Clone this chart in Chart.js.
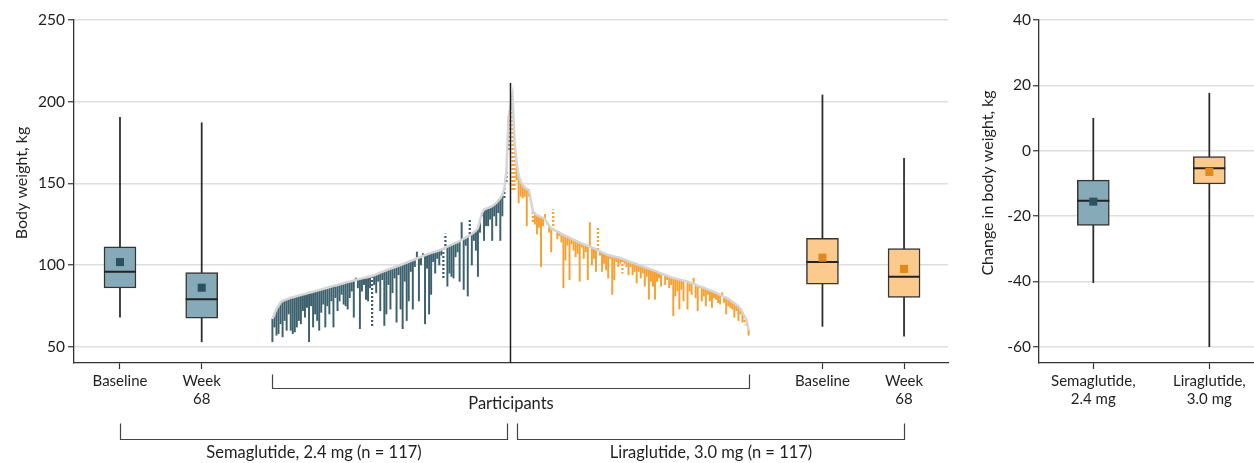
<!DOCTYPE html>
<html>
<head>
<meta charset="utf-8">
<script src="https://cdn.jsdelivr.net/npm/chart.js@4.4.1/dist/chart.umd.min.js"></script>
<style>
html,body{margin:0;padding:0;background:#fff;}
#wrap{position:relative;width:1254px;height:463px;overflow:hidden;background:#fff;}
#leftBox{position:absolute;left:0;top:0;width:960px;height:463px;}
#rightBox{position:absolute;left:960px;top:0;width:294px;height:463px;}
</style>
</head>
<body>
<div id="wrap">
  <div id="leftBox"><canvas id="left" width="960" height="463"></canvas></div>
  <div id="rightBox"><canvas id="right" width="294" height="463"></canvas></div>
</div>
<script>
// ---------------- DATA ----------------
const leftTickLabels = ['Baseline', ['Week', '68'], 'Baseline', ['Week', '68']];
const rightTickLabels = [['Semaglutide,', '2.4 mg'], ['Liraglutide,', '3.0 mg']];
const groupLabels = ['Semaglutide, 2.4 mg (n = 117)', 'Liraglutide, 3.0 mg (n = 117)'];
const participantsLabel = 'Participants';
const leftAxisTitle = 'Body weight, kg';
const rightAxisTitle = 'Change in body weight, kg';

// box stats: [min, q1, median, q3, max, mean]
const semaBaselineBox = [68, 85.9, 95.9, 111.2, 190.4, 101.8];
const semaWeek68Box   = [53, 67.4, 79.0, 95.3, 187.1, 86.1];
const liraBaselineBox = [62.4, 88.2, 101.8, 116.3, 204.1, 104.5];
const liraWeek68Box   = [56.5, 80.2, 92.8, 110.0, 165.3, 97.6];
const semaChangeBox   = [-40.4, -22.9, -15.3, -9.0, 9.9, -15.6];
const liraChangeBox   = [-60.0, -10.2, -5.4, -1.8, 17.6, -6.5];

// individual participants (semaglutide sorted ascending by baseline)
const semaBaseline = [67,70,73,75,77,78,78.5,79,79.5,80,
  80.3,80.6,81,81.3,81.6,82,82.3,82.6,83,83.3,
  83.6,84,84.3,84.7,85,85.4,85.8,86.1,86.5,86.8,
  87.2,87.5,87.8,88.2,88.5,88.8,89.2,89.5,89.8,90.2,
  90.6,91,91.2,91.5,91.8,92.1,92.4,92.7,93,93.3,
  93.7,94.2,94.8,95.3,95.8,96.3,96.8,97.3,97.8,98.2,
  98.6,99.1,99.5,100,100.5,101,101.5,102,102.5,103,
  103.5,104,104.5,105,105.5,106,106.5,107,107.4,107.8,
  108.2,108.6,109,109.5,110,110.6,111.2,111.8,112.4,113,
  113.5,114,114.7,115.4,116,116.8,117.5,118.3,119,120,
  121,122.5,127,132,134,134.5,135,135.5,136,137,
  138,139.5,141,143,147,158,190];
const semaWeek68 = [53,62,57,58,64,56,66,60,70,60,
  58,59,62,66,64,72,68,74,53,75,
  62,70,66,60,71,76,62,75,70,78,
  62,80,72,78,82,76,75,73,80,84,
  68,92,86,61,84,88,79,78,86,62,
  88,83,90,72,91,63,70,88,73,83,
  92,65,94,73,61,90,66,78,96,73,
  99,108,78,100,107,64,98,70,82,102,
  95,104,100,106,92,119,87,95,93,92,
  105,108,90,126,85,112,81,128,100,115,
  109,93,120,130,115,124,124,128,115,130,
  124,132,115,130,140,150,170];
const semaDotted = [49, 84, 85, 97, 114, 115, 116];

// liraglutide sorted descending by baseline
const liraBaseline = [204,175,163,155,151,149,147.5,146.5,146,140,
  133,131.5,130.5,130,129.3,128.9,128,126,124,122.5,
  121.7,121,120.5,120,119,118.5,118,117.4,116.8,116.2,
  115.6,115,114.3,113.7,113.2,112.7,112.2,111.7,111.2,110.7,
  110.3,109.7,109,108.4,107.8,107.2,106.6,106.1,105.8,105.5,
  105.2,104.9,104.6,104.3,103.8,103.3,102.8,102.3,101.8,101.4,
  101,100.6,100.1,99.7,99.2,98.7,98.3,97.8,97.3,96.9,
  96.4,95.9,95.3,94.8,94.3,93.9,93.4,92.9,92.4,92.1,
  91.8,91.4,91.1,90.8,90.5,90.2,89.9,89.4,88.9,88.5,
  88,87.4,86.9,86.5,86.1,85.5,85,84.6,84.1,83.5,
  82.9,82.3,81.7,81.1,80.5,80,79.3,78.4,77.5,76.6,
  75.7,74.7,73.3,71,68.5,66.5,60];
const liraWeek68 = [146,145,152,138,142,141,142,124,142,139,
  126,125,119,123,99,124,131,125,120,108,
  134,121,116,118,114,86,103,112,91,113,
  109,105,107,90,111,104,108,91,126,100,
  104,96,123,106,96,101,97,92,104,82,
  91,102,99,101,95,101,99,94,99,94,
  96,89,96,92,95,87,93,79,90,87,
  79,90,92,87,94,88,91,86,88,69,
  81,84,73,85,78,92,73,84,82,92,
  80,72,86,78,81,75,82,78,74,80,
  79,77,76,83,77,70,75,74,73,68,
  72,66,70,65,64,63,57];
const liraDotted = [0, 1, 10, 20, 42, 54, 85, 114, 115];

// ---------------- LAYOUT (x positions in participant-slot units) ----------------
const POS = {
  semaBase: 22.6, semaWeek: 62.75, semaStart: 97.5, sep: 214.5,
  liraStart: 215.5, liraBase: 367.8, liraWeek: 407.9,
  semaBracketEnd: 213.0, liraBracketStart: 217.8
};
const X_MAX = 429.5;
const LEFT_Y = {min: 40, max: 250, step: 50};
const RIGHT_Y = {min: -65, max: 40, step: 20};
const SEP_TOP = 211.5;
const RIGHT_X = {min: 0.532, max: 2.385, sema: 1, lira: 2};

const C = {
  semaBar: '#3d606d', semaBox: '#86aab8', semaMean: '#2b5261',
  liraBar: '#f7a032', liraBox: '#fdca8d', liraMean: '#e3881b',
  curve: '#d5d5d5', ink: '#2a2a2a', grid: '#dedede', text: '#1f1f1f'
};
const FONT = 'Lato, "Open Sans", sans-serif';

Chart.defaults.font.family = FONT;
Chart.defaults.font.size = 15;
Chart.defaults.color = C.text;

function dotPattern(color) {
  const c = document.createElement('canvas');
  c.width = 4; c.height = 4;
  const g = c.getContext('2d');
  g.fillStyle = color;
  g.fillRect(0, 0, 4, 2);
  return document.getElementById('left').getContext('2d').createPattern(c, 'repeat');
}

function boxDatasets(x, s, fill, meanColor) {
  return [
    {type: 'bar', data: [{x: x, y: [s[0], s[4]]}], backgroundColor: C.ink,
     barThickness: 1.1, grouped: false, order: 4},
    {type: 'bar', data: [{x: x, y: [s[1], s[3]]}], backgroundColor: fill,
     borderColor: '#353535', borderWidth: 1.5, borderSkipped: false,
     barThickness: 32, grouped: false, order: 3},
    {type: 'line', showLine: false, data: [{x: x, y: s[2]}], pointStyle: 'line',
     pointRadius: 16, pointBorderWidth: 2, pointBorderColor: '#222', order: 2},
    {type: 'line', showLine: false, data: [{x: x, y: s[5]}], pointStyle: 'rect',
     pointRadius: 5.7, pointBackgroundColor: meanColor, pointBorderWidth: 0, order: 1}
  ];
}

function participantDatasets(start, base, week, dotted, color) {
  const solid = [], dots = [];
  base.forEach((b, i) => {
    const p = {x: start + i, y: [week[i], b]};
    (dotted.includes(i) ? dots : solid).push(p);
  });
  return [
    {type: 'bar', data: solid, backgroundColor: color, barThickness: 1.3, grouped: false, order: 7},
    {type: 'bar', data: dots, backgroundColor: dotPattern(color), barThickness: 1.6, grouped: false, order: 6}
  ];
}

const curveData = semaBaseline.map((b, i) => ({x: POS.semaStart + i, y: b}))
  .concat(liraBaseline.map((b, i) => ({x: POS.liraStart + i, y: b})));

const bracketPlugin = {
  id: 'brackets',
  afterDraw(chart) {
    const {ctx, chartArea, scales} = chart;
    const x = scales.x, b = chartArea.bottom;
    ctx.save();
    ctx.strokeStyle = '#444';
    ctx.lineWidth = 1.2;
    ctx.fillStyle = C.text;
    ctx.font = '16.5px ' + FONT;
    ctx.textAlign = 'center';
    ctx.textBaseline = 'middle';
    function bracket(v1, v2, yTop, yBot, label, yText) {
      const xa = Math.round(x.getPixelForValue(v1)) + 0.5;
      const xb = Math.round(x.getPixelForValue(v2)) + 0.5;
      const y1 = Math.round(b + yTop) + 0.5, y2 = Math.round(b + yBot) + 0.5;
      ctx.beginPath();
      ctx.moveTo(xa, y1); ctx.lineTo(xa, y2); ctx.lineTo(xb, y2); ctx.lineTo(xb, y1);
      ctx.stroke();
      ctx.fillText(label, (xa + xb) / 2, b + yText);
    }
    bracket(POS.semaStart, POS.liraStart + liraBaseline.length - 1, 11, 25, participantsLabel, 41);
    bracket(POS.semaBase, POS.semaBracketEnd, 60, 76, groupLabels[0], 90);
    bracket(POS.liraBracketStart, POS.liraWeek, 60, 76, groupLabels[1], 90);
    ctx.restore();
  }
};

// vertical axis title, centred a little above the plot centre as in the original
function axisTitlePlugin(text, cx, cy) {
  return {
    id: 'axisTitle',
    afterDraw(chart) {
      const ctx = chart.ctx;
      ctx.save();
      ctx.translate(cx, cy);
      ctx.rotate(-Math.PI / 2);
      ctx.fillStyle = C.text;
      ctx.font = '16px ' + FONT;
      ctx.textAlign = 'center';
      ctx.textBaseline = 'middle';
      ctx.fillText(text, 0, 0);
      ctx.restore();
    }
  };
}

const leftDatasets = [
  {type: 'line', data: [{x: POS.sep, y: LEFT_Y.min}, {x: POS.sep, y: SEP_TOP}],
   borderColor: '#1e1e1e', borderWidth: 1.5, pointRadius: 0, order: 0},
  {type: 'line', data: curveData, borderColor: C.curve, borderWidth: 2.5,
   pointRadius: 0, tension: 0, order: 5},
  ...participantDatasets(POS.semaStart, semaBaseline, semaWeek68, semaDotted, C.semaBar),
  ...participantDatasets(POS.liraStart, liraBaseline, liraWeek68, liraDotted, C.liraBar),
  ...boxDatasets(POS.semaBase, semaBaselineBox, C.semaBox, C.semaMean),
  ...boxDatasets(POS.semaWeek, semaWeek68Box, C.semaBox, C.semaMean),
  ...boxDatasets(POS.liraBase, liraBaselineBox, C.liraBox, C.liraMean),
  ...boxDatasets(POS.liraWeek, liraWeek68Box, C.liraBox, C.liraMean)
];

function yScale(range, width, labelPad) {
  return {
    type: 'linear', min: range.min, max: range.max,
    ticks: {stepSize: range.step, includeBounds: false, padding: labelPad, color: C.text, font: {size: 15.5}},
    grid: {color: C.grid, lineWidth: 1.5, tickLength: 6, tickColor: '#333', tickWidth: 1.2},
    border: {color: '#333', width: 1.3},
    afterFit: s => { s.width = width; }
  };
}
function xScale(min, max, values, labels) {
  return {
    type: 'linear', min: min, max: max, offset: false,
    afterBuildTicks: s => { s.ticks = values.map(v => ({value: v})); },
    ticks: {callback: (v, i) => labels[i], autoSkip: false, maxRotation: 0, minRotation: 0,
            padding: 3, color: C.text, font: {size: 15}},
    grid: {drawOnChartArea: false, tickLength: 6, tickColor: '#333', tickWidth: 1.2, offset: false},
    border: {color: '#333', width: 1.3},
    afterFit: s => { s.height = 100; s.paddingLeft = 0; s.paddingRight = 0; }
  };
}

const commonOpts = {
  responsive: false, animation: false, devicePixelRatio: 1, events: [],
  plugins: {legend: {display: false}, tooltip: {enabled: false}}
};

new Chart(document.getElementById('left'), {
  type: 'bar',
  data: {datasets: leftDatasets},
  options: Object.assign({}, commonOpts, {
    layout: {autoPadding: false, padding: {top: 20, right: 12, left: 0, bottom: 0}},
    scales: {
      x: xScale(0, X_MAX, [POS.semaBase, POS.semaWeek, POS.liraBase, POS.liraWeek], leftTickLabels),
      y: yScale(LEFT_Y, 74, 3)
    }
  }),
  plugins: [bracketPlugin, axisTitlePlugin(leftAxisTitle, 22, 183)]
});

new Chart(document.getElementById('right'), {
  type: 'bar',
  data: {datasets: [
    ...boxDatasets(RIGHT_X.sema, semaChangeBox, C.semaBox, C.semaMean),
    ...boxDatasets(RIGHT_X.lira, liraChangeBox, C.liraBox, C.liraMean)
  ]},
  options: Object.assign({}, commonOpts, {
    layout: {autoPadding: false, padding: {top: 20, right: 0, left: 0, bottom: 0}},
    scales: {
      x: xScale(RIGHT_X.min, RIGHT_X.max, [RIGHT_X.sema, RIGHT_X.lira], rightTickLabels),
      y: yScale(RIGHT_Y, 79, 2)
    }
  }),
  plugins: [axisTitlePlugin(rightAxisTitle, 28, 183)]
});
</script>
</body>
</html>
